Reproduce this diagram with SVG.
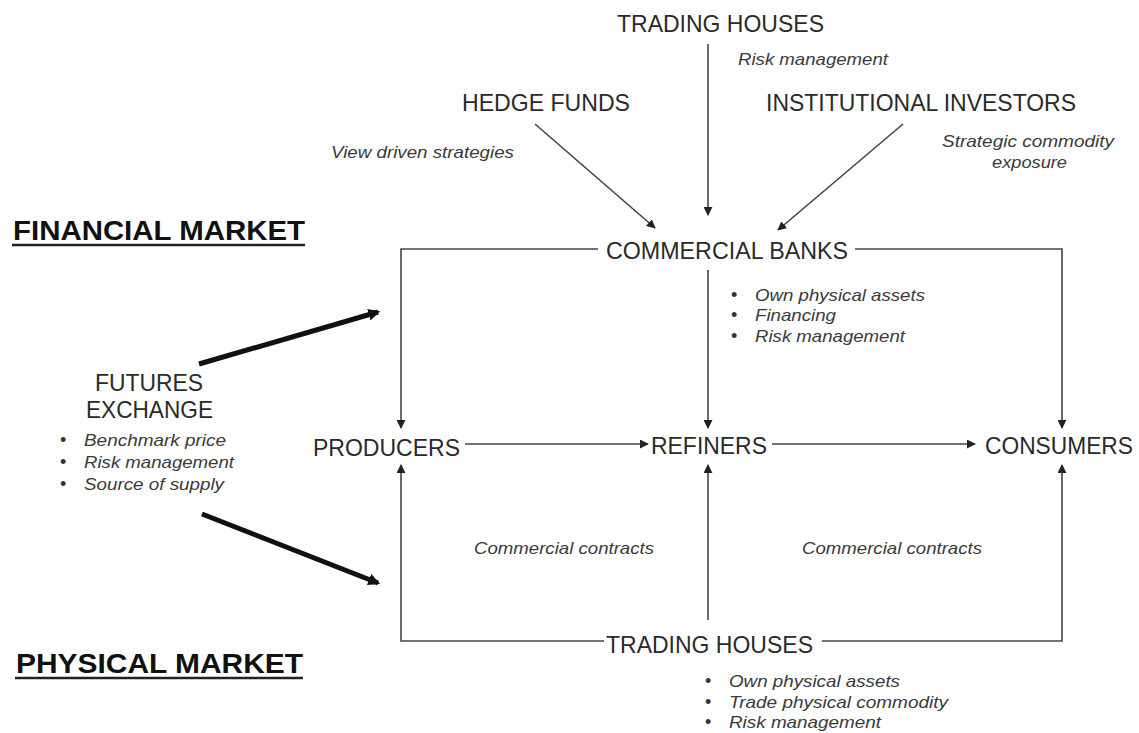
<svg xmlns="http://www.w3.org/2000/svg" width="1139" height="733" viewBox="0 0 1139 733">
  <style>
    .lbl { font-family: "Liberation Sans", Arial, sans-serif; font-size: 24px; fill: #2a2a2a; }
    .note { font-family: "Liberation Sans", Arial, sans-serif; font-size: 17px; font-style: italic; fill: #3a3a3a; }
    .dot { font-family: "Liberation Sans", Arial, sans-serif; font-size: 18px; fill: #333; }
    .title { font-family: "Liberation Sans", Arial, sans-serif; font-size: 28px; font-weight: bold; fill: #111; }
    .ln { stroke: #444; stroke-width: 1.6; fill: none; }
    .thick { stroke: #111; stroke-width: 5; fill: none; }
    .ul { stroke: #222; stroke-width: 2.5; }
  </style>
  <defs>
    <marker id="ah" viewBox="0 0 10 10" refX="9" refY="5" markerWidth="9" markerHeight="9" markerUnits="userSpaceOnUse" orient="auto">
      <path d="M0,0 L10,5 L0,10 z" fill="#222"/>
    </marker>
    <marker id="ahThick" viewBox="0 0 10 10" refX="8" refY="5" markerWidth="12" markerHeight="12" markerUnits="userSpaceOnUse" orient="auto">
      <path d="M0,0 L10,5 L0,10 z" fill="#111"/>
    </marker>
  </defs>
  <rect width="1139" height="733" fill="#ffffff"/>

  <!-- section headings -->
  <g id="financial-market">
    <text class="title" x="13" y="240" textLength="292" lengthAdjust="spacingAndGlyphs">FINANCIAL MARKET</text>
    <line class="ul" x1="12" y1="245" x2="305" y2="245"/>
  </g>
  <g id="physical-market">
    <text class="title" x="16" y="673" textLength="287" lengthAdjust="spacingAndGlyphs">PHYSICAL MARKET</text>
    <line class="ul" x1="15" y1="678" x2="303" y2="678"/>
  </g>

  <!-- participants -->
  <g id="trading-houses-top">
    <text class="lbl" x="617" y="32" textLength="207" lengthAdjust="spacingAndGlyphs">TRADING HOUSES</text>
    <text class="note" x="738" y="65" textLength="150" lengthAdjust="spacingAndGlyphs">Risk management</text>
  </g>
  <g id="hedge-funds">
    <text class="lbl" x="462" y="111" textLength="168" lengthAdjust="spacingAndGlyphs">HEDGE FUNDS</text>
    <text class="note" x="331" y="158" textLength="183" lengthAdjust="spacingAndGlyphs">View driven strategies</text>
  </g>
  <g id="institutional-investors">
    <text class="lbl" x="766" y="111" textLength="310" lengthAdjust="spacingAndGlyphs">INSTITUTIONAL INVESTORS</text>
    <text class="note" x="942" y="147" textLength="172" lengthAdjust="spacingAndGlyphs">Strategic commodity</text>
    <text class="note" x="992" y="168" textLength="75" lengthAdjust="spacingAndGlyphs">exposure</text>
  </g>
  <g id="commercial-banks">
    <text class="lbl" x="606" y="259" textLength="242" lengthAdjust="spacingAndGlyphs">COMMERCIAL BANKS</text>
    <text class="dot" x="731" y="301">•</text>
    <text class="note" x="755" y="301" textLength="170" lengthAdjust="spacingAndGlyphs">Own physical assets</text>
    <text class="dot" x="731" y="321">•</text>
    <text class="note" x="755" y="321" textLength="81" lengthAdjust="spacingAndGlyphs">Financing</text>
    <text class="dot" x="731" y="342">•</text>
    <text class="note" x="755" y="342" textLength="150" lengthAdjust="spacingAndGlyphs">Risk management</text>
  </g>
  <g id="futures-exchange">
    <text class="lbl" x="95" y="391" textLength="108" lengthAdjust="spacingAndGlyphs">FUTURES</text>
    <text class="lbl" x="86" y="418" textLength="127" lengthAdjust="spacingAndGlyphs">EXCHANGE</text>
    <text class="dot" x="60" y="446">•</text>
    <text class="note" x="84" y="446" textLength="142" lengthAdjust="spacingAndGlyphs">Benchmark price</text>
    <text class="dot" x="60" y="468">•</text>
    <text class="note" x="84" y="468" textLength="150" lengthAdjust="spacingAndGlyphs">Risk management</text>
    <text class="dot" x="60" y="490">•</text>
    <text class="note" x="84" y="490" textLength="140" lengthAdjust="spacingAndGlyphs">Source of supply</text>
  </g>
  <g id="producers">
    <text class="lbl" x="313" y="456" textLength="147" lengthAdjust="spacingAndGlyphs">PRODUCERS</text>
  </g>
  <g id="refiners">
    <text class="lbl" x="651" y="454" textLength="116" lengthAdjust="spacingAndGlyphs">REFINERS</text>
  </g>
  <g id="consumers">
    <text class="lbl" x="985" y="454" textLength="148" lengthAdjust="spacingAndGlyphs">CONSUMERS</text>
  </g>
  <g id="trading-houses-bottom">
    <text class="lbl" x="606" y="653" textLength="207" lengthAdjust="spacingAndGlyphs">TRADING HOUSES</text>
    <text class="dot" x="705" y="687">•</text>
    <text class="note" x="729" y="687" textLength="171" lengthAdjust="spacingAndGlyphs">Own physical assets</text>
    <text class="dot" x="705" y="708">•</text>
    <text class="note" x="729" y="708" textLength="219" lengthAdjust="spacingAndGlyphs">Trade physical commodity</text>
    <text class="dot" x="705" y="728">•</text>
    <text class="note" x="729" y="728" textLength="152" lengthAdjust="spacingAndGlyphs">Risk management</text>
  </g>
  <g id="contract-labels">
    <text class="note" x="474" y="554" textLength="180" lengthAdjust="spacingAndGlyphs">Commercial contracts</text>
    <text class="note" x="802" y="554" textLength="180" lengthAdjust="spacingAndGlyphs">Commercial contracts</text>
  </g>

  <!-- connectors -->
  <g id="connectors">
    <line class="ln" x1="535" y1="124" x2="655" y2="228" marker-end="url(#ah)"/>
    <line class="ln" x1="708" y1="44" x2="708" y2="215" marker-end="url(#ah)"/>
    <line class="ln" x1="903" y1="124" x2="778" y2="230" marker-end="url(#ah)"/>

    <polyline class="ln" points="598,249 401,249 401,428" marker-end="url(#ah)"/>
    <polyline class="ln" points="855,249 1062,249 1062,428" marker-end="url(#ah)"/>
    <line class="ln" x1="708" y1="270" x2="708" y2="428" marker-end="url(#ah)"/>

    <line class="ln" x1="465" y1="444" x2="648" y2="444" marker-end="url(#ah)"/>
    <line class="ln" x1="772" y1="444" x2="975" y2="444" marker-end="url(#ah)"/>

    <polyline class="ln" points="604,641 401,641 401,465" marker-end="url(#ah)"/>
    <polyline class="ln" points="822,641 1062,641 1062,465" marker-end="url(#ah)"/>
    <line class="ln" x1="708" y1="620" x2="708" y2="465" marker-end="url(#ah)"/>

    <line class="thick" x1="199" y1="364" x2="378" y2="312" marker-end="url(#ahThick)"/>
    <line class="thick" x1="202" y1="514" x2="378" y2="583" marker-end="url(#ahThick)"/>
  </g>
</svg>
